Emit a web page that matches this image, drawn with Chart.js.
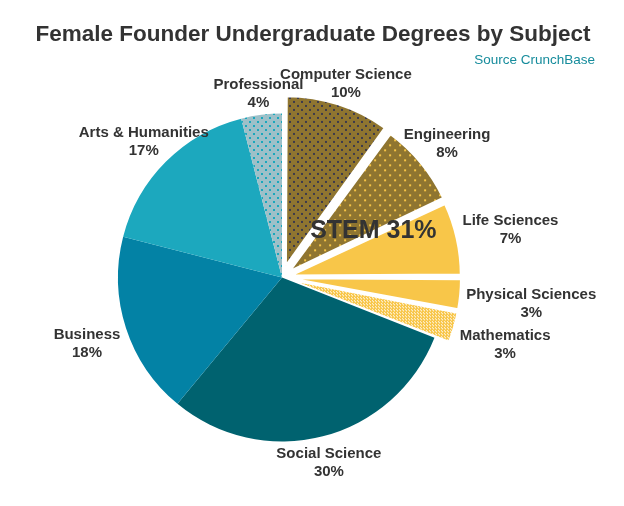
<!DOCTYPE html>
<html><head><meta charset="utf-8">
<script src="https://cdn.jsdelivr.net/npm/chart.js@4"></script>
<style>html,body{margin:0;padding:0;background:#fff}</style>
</head><body>
<canvas id="c" width="624" height="506"></canvas>
<script>
const subjects=['Computer Science','Engineering','Life Sciences','Physical Sciences','Mathematics','Social Science','Business','Arts & Humanities','Professional'];
const shares=[10,8,7,3,3,30,18,17,4];
const isStem=[true,true,true,true,true,false,false,false,false];
const titleText='Female Founder Undergraduate Degrees by Subject';
const sourceText='Source CrunchBase';

const FONT='"Liberation Sans", Arial, Helvetica, sans-serif';
Chart.defaults.font.family=FONT;

// small tiled fills for the textured slices
function pattern(w,h,bg,fg,dots){
 const c=document.createElement('canvas'); c.width=w; c.height=h;
 const x=c.getContext('2d');
 x.fillStyle=bg; x.fillRect(0,0,w,h);
 x.fillStyle=fg; dots.forEach(d=>x.fillRect(d[0],d[1],d[2],d[3]));
 return x.createPattern(c,'repeat');
}
const gold='#8f7530', yellow='#f8c649';
const fills=[
 pattern(8,8,gold,'#3c3a4c',[[1,1,2,2],[5,5,2,2]]),
 pattern(10,10,gold,'#f6c445',[[1,1,2,2],[6,6,2,2]]),
 yellow,
 yellow,
 pattern(3,3,yellow,'#fff',[[1,1,1,1],[2,2,1,1]]),
 '#00626f',
 '#0382a5',
 '#1ca8be',
 pattern(8,8,'#9dc0c8','#19a7bd',[[1,1,2,2],[5,5,2,2]])
];
// how far each STEM slice is pulled out, in px
const pullOut=isStem.map((s,i)=>s?(i==0?18:(i==1?16:15)):0);
const total=shares.reduce((p,v)=>p+v,0);
// chart.js v4 arcs move offset/4*(2-sin(circumference)), so invert that
const offsets=pullOut.map((d,i)=>{const circ=shares[i]/total*2*Math.PI; return 4*d/(2-Math.sin(Math.min(Math.PI,circ)));});

const textPlugin={id:'texts',
 afterDatasetsDraw(chart){
  const ctx=chart.ctx, arcs=chart.getDatasetMeta(0).data;
  ctx.save();
  ctx.fillStyle='#333'; ctx.textAlign='center'; ctx.textBaseline='middle';
  ctx.font='bold 15px '+FONT;
  arcs.forEach((a,i)=>{
   const mid=(a.startAngle+a.endAngle)/2, dx=Math.cos(mid), dy=Math.sin(mid);
   const l1=subjects[i], l2=shares[i]+'%';
   const hw=Math.max(ctx.measureText(l1).width,ctx.measureText(l2).width)/2, hh=18;
   const t=Math.min(Math.abs(dx)>1e-6?hw/Math.abs(dx):1e9, Math.abs(dy)>1e-6?hh/Math.abs(dy):1e9);
   const r=a.outerRadius+pullOut[i]+6+t;
   const x=a.x+dx*r, y=a.y+dy*r+3;
   ctx.fillText(l1,x,y-9); ctx.fillText(l2,x,y+9);
  });
  // STEM group label
  const st=arcs.filter((a,i)=>isStem[i]);
  const stemTotal=shares.filter((v,i)=>isStem[i]).reduce((p,v)=>p+v,0);
  const m=(st[0].startAngle+st[st.length-1].endAngle)/2;
  const lbl='STEM '+stemTotal+'%';
  ctx.font='bold 25px '+FONT;
  const hw=ctx.measureText(lbl).width/2, a0=st[0];
  ctx.fillText(lbl,a0.x+Math.cos(m)*a0.outerRadius*0.5+Math.cos(m)*hw*0.45,a0.y+Math.sin(m)*a0.outerRadius*0.5);
  // title + source
  ctx.font='bold 22.5px '+FONT;
  ctx.fillText(titleText,chart.width/2+1,35);
  ctx.font='13.5px '+FONT; ctx.fillStyle='#168c9c'; ctx.textAlign='right';
  ctx.fillText(sourceText,chart.width-29,60);
  ctx.restore();
 }};

new Chart(document.getElementById('c'),{
 type:'pie',
 data:{labels:subjects,datasets:[{data:shares,backgroundColor:fills,offset:offsets,
  borderColor:'#fff',borderWidth:isStem.map(s=>s?2:0)}]},
 options:{responsive:false,animation:false,radius:164,
  layout:{padding:{left:20,right:80,top:60,bottom:11}},
  plugins:{legend:{display:false},tooltip:{enabled:false},title:{display:false}}},
 plugins:[textPlugin]
});
</script>
</body></html>
